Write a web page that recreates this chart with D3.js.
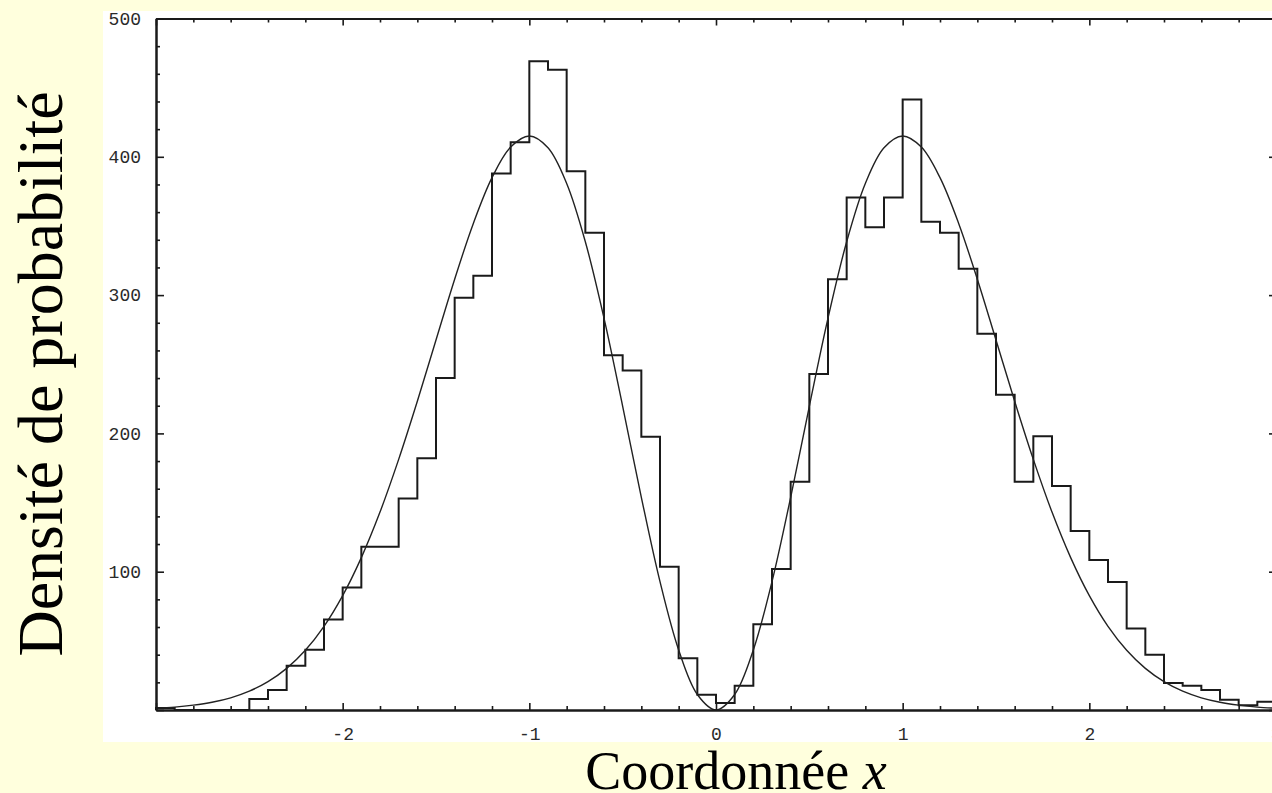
<!DOCTYPE html>
<html>
<head>
<meta charset="utf-8">
<script src="https://cdn.jsdelivr.net/npm/d3@7"></script>
<style>
  html, body { margin: 0; padding: 0; background: #FFFFDD; }
  svg { display: block; }
</style>
</head>
<body>
<svg id="chart" width="1272" height="793"></svg>
<script>
// ---- data ----
// histogram: left bin edges (width 0.1) and counts
const binStarts = [-3.0,-2.9,-2.8,-2.7,-2.6,-2.5,-2.4,-2.3,-2.2,-2.1,
                   -2.0,-1.9,-1.8,-1.7,-1.6,-1.5,-1.4,-1.3,-1.2,-1.1,
                   -1.0,-0.9,-0.8,-0.7,-0.6,-0.5,-0.4,-0.3,-0.2,-0.1,
                    0.0, 0.1, 0.2, 0.3, 0.4, 0.5, 0.6, 0.7, 0.8, 0.9,
                    1.0, 1.1, 1.2, 1.3, 1.4, 1.5, 1.6, 1.7, 1.8, 1.9,
                    2.0, 2.1, 2.2, 2.3, 2.4, 2.5, 2.6, 2.7, 2.8, 2.9];
const binCounts = [1.5, 0, 0, 0, 0, 8, 14.5, 32, 43.5, 65.5,
                   88.5, 118, 118, 153, 182, 240, 298, 314, 388, 410.5,
                   469, 463, 389.5, 345, 256.5, 245.5, 197.5, 103.5, 37.5, 11,
                   5, 17.5, 62, 102, 165, 243, 311.5, 370.5, 349, 370.5,
                   441.5, 353, 345, 319, 272, 228, 165, 198, 162, 129.5,
                   108.5, 92.5, 59, 40, 19.5, 17.5, 14.5, 7.5, 3.5, 6];
const binWidth = 0.1;

// smooth density curve
const curveX = [-3.0,-2.9,-2.8,-2.7,-2.6,-2.5,-2.4,-2.3,-2.2,-2.1,
                -2.0,-1.9,-1.8,-1.7,-1.6,-1.5,-1.4,-1.3,-1.2,-1.1,
                -1.0,-0.9,-0.8,-0.7,-0.6,-0.5,-0.4,-0.3,-0.2,-0.1,
                 0.0, 0.1, 0.2, 0.3, 0.4, 0.5, 0.6, 0.7, 0.8, 0.9,
                 1.0, 1.1, 1.2, 1.3, 1.4, 1.5, 1.6, 1.7, 1.8, 1.9,
                 2.0, 2.1, 2.2, 2.3, 2.4, 2.5, 2.6, 2.7, 2.8, 2.9, 3.0];
const curveY = [1.3, 2.1, 3.5, 5.6, 8.8, 13.6, 20.5, 30.1, 43.2, 60.5,
                82.7, 110.2, 143.1, 181.2, 223.2, 267.5, 311.5, 351.8, 384.9, 407.0,
                415, 406.5, 380.7, 338.6, 283.3, 219.6, 153.8, 92.8, 43.4, 11.2,
                0, 11.2, 43.4, 92.8, 153.8, 219.6, 283.3, 338.6, 380.7, 406.5,
                415, 407.0, 384.9, 351.8, 311.5, 267.5, 223.2, 181.2, 143.1, 110.2,
                82.7, 60.5, 43.2, 30.1, 20.5, 13.6, 8.8, 5.6, 3.5, 2.1, 1.3];

// axes ticks
const xMajorTicks = [-3, -2, -1, 0, 1, 2, 3];
const xTickLabels = ["", "-2", "-1", "0", "1", "2", "3"];
const xMinorTicks = [-2.8,-2.6,-2.4,-2.2,-1.8,-1.6,-1.4,-1.2,-0.8,-0.6,-0.4,-0.2,
                     0.2,0.4,0.6,0.8,1.2,1.4,1.6,1.8,2.2,2.4,2.6,2.8];
const yMajorTicks = [0, 100, 200, 300, 400, 500];
const yTickLabels = ["", "100", "200", "300", "400", "500"];
const yMinorTicks = [20,40,60,80,120,140,160,180,220,240,260,280,320,340,360,380,420,440,460,480];

const xTitle = "Coordonnée ";
const xTitleVar = "x";
const yTitle = "Densité de probabilité";

// ---- drawing ----
const svg = d3.select("#chart");
const W = 1272, H = 793;

svg.append("rect").attr("x", 0).attr("y", 0).attr("width", W).attr("height", H).attr("fill", "#FFFFDD");
svg.append("rect").attr("x", 103).attr("y", 11).attr("width", W - 103).attr("height", 731).attr("fill", "#FFFFFF");

const x = d3.scaleLinear().domain([-3, 3]).range([156, 1276]);
const y = d3.scaleLinear().domain([0, 500]).range([710, 18.5]);

const ink = "#1a1a1a";

// histogram as a step line
const stepPts = [[-3, 0]];
binStarts.forEach((b, i) => { stepPts.push([b, binCounts[i]]); });
stepPts.push([binStarts[binStarts.length - 1] + binWidth, binCounts[binCounts.length - 1]]);
const stepLine = d3.line().x(d => x(d[0])).y(d => y(d[1])).curve(d3.curveStepAfter);
svg.append("path").datum(stepPts).attr("d", stepLine)
  .attr("fill", "none").attr("stroke", ink).attr("stroke-width", 2);

// density curve
const curvePts = curveX.map((v, i) => [v, curveY[i]]);
const smooth = d3.line().x(d => x(d[0])).y(d => y(d[1])).curve(d3.curveCatmullRom);
svg.append("path").datum(curvePts).attr("d", smooth)
  .attr("fill", "none").attr("stroke", "#222").attr("stroke-width", 1.4);

// frame axes
function styleAxis(g) {
  g.selectAll(".domain").attr("stroke", ink).attr("stroke-width", 2);
  g.selectAll(".tick line").attr("stroke", ink).attr("stroke-width", 1.6);
  g.selectAll(".tick text").attr("fill", "#2a2a2a")
    .style("font-family", "'Liberation Mono', 'DejaVu Sans Mono', monospace")
    .style("font-size", "18px");
}

// bottom
const gB = svg.append("g").attr("transform", `translate(0,${y(0)})`)
  .call(d3.axisBottom(x).tickValues(xMajorTicks).tickSizeInner(-7).tickSizeOuter(0).tickPadding(17)
    .tickFormat((d, i) => xTickLabels[i]));
styleAxis(gB);
const gBm = svg.append("g").attr("transform", `translate(0,${y(0)})`)
  .call(d3.axisBottom(x).tickValues(xMinorTicks).tickSizeInner(-4).tickSizeOuter(0).tickFormat(""));
styleAxis(gBm);

// top
const gT = svg.append("g").attr("transform", `translate(0,${y(500)})`)
  .call(d3.axisTop(x).tickValues(xMajorTicks).tickSizeInner(-7).tickSizeOuter(0).tickFormat(""));
styleAxis(gT);
const gTm = svg.append("g").attr("transform", `translate(0,${y(500)})`)
  .call(d3.axisTop(x).tickValues(xMinorTicks).tickSizeInner(-4).tickSizeOuter(0).tickFormat(""));
styleAxis(gTm);

// left
const gL = svg.append("g").attr("transform", `translate(${x(-3)},0)`)
  .call(d3.axisLeft(y).tickValues(yMajorTicks).tickSizeInner(-8).tickSizeOuter(0).tickPadding(15)
    .tickFormat((d, i) => yTickLabels[i]));
styleAxis(gL);
const gLm = svg.append("g").attr("transform", `translate(${x(-3)},0)`)
  .call(d3.axisLeft(y).tickValues(yMinorTicks).tickSizeInner(-4).tickSizeOuter(0).tickFormat(""));
styleAxis(gLm);

// right
const gR = svg.append("g").attr("transform", `translate(${x(3)},0)`)
  .call(d3.axisRight(y).tickValues(yMajorTicks).tickSizeInner(-7).tickSizeOuter(0).tickFormat(""));
styleAxis(gR);
const gRm = svg.append("g").attr("transform", `translate(${x(3)},0)`)
  .call(d3.axisRight(y).tickValues(yMinorTicks).tickSizeInner(-4).tickSizeOuter(0).tickFormat(""));
styleAxis(gRm);

// titles
const xt = svg.append("text")
  .attr("x", 736).attr("y", 789)
  .attr("text-anchor", "middle")
  .style("font-family", "'Liberation Serif', 'Times New Roman', serif")
  .style("font-size", "54px")
  .attr("fill", "#000");
xt.append("tspan").text(xTitle);
xt.append("tspan").style("font-style", "italic").text(xTitleVar);

svg.append("text")
  .attr("transform", "translate(62,374) rotate(-90)")
  .attr("text-anchor", "middle")
  .style("font-family", "'Liberation Serif', 'Times New Roman', serif")
  .style("font-size", "64px")
  .attr("fill", "#000")
  .text(yTitle);
</script>
</body>
</html>
